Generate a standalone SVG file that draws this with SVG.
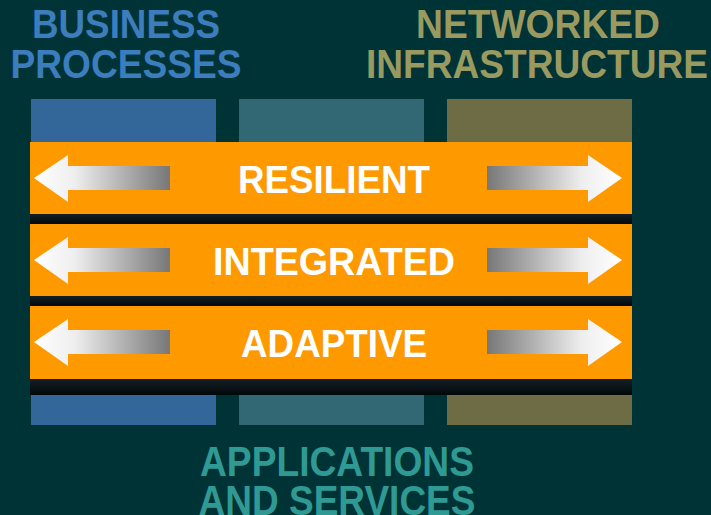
<svg xmlns="http://www.w3.org/2000/svg" width="711" height="515" viewBox="0 0 711 515">
<defs>
<linearGradient id="gl" x1="0" y1="0" x2="1" y2="0"><stop offset="0" stop-color="#ffffff"/><stop offset="0.3" stop-color="#eeeeee"/><stop offset="1" stop-color="#777777"/></linearGradient>
<linearGradient id="gr" x1="0" y1="0" x2="1" y2="0"><stop offset="0" stop-color="#777777"/><stop offset="0.7" stop-color="#eeeeee"/><stop offset="1" stop-color="#ffffff"/></linearGradient>
<linearGradient id="gd" x1="0" y1="0" x2="0" y2="1"><stop offset="0" stop-color="#131f26"/><stop offset="1" stop-color="#020809"/></linearGradient>
<g id="arrows">
<path d="M34,178 L68,155 L68,166 L170,166 L170,190 L68,190 L68,202 Z" fill="url(#gl)"/>
<path d="M622,178 L588,155 L588,166 L487,166 L487,190 L588,190 L588,202 Z" fill="url(#gr)"/>
</g>
</defs>
<style>
.lbl{font-family:"Liberation Sans",Arial,sans-serif;font-weight:bold;text-anchor:middle}
.band{fill:#ff9900}
.bt{fill:#ffffff;font-size:38px}
</style>
<rect width="711" height="515" fill="#003335"/>
<g id="business-processes">
<rect x="31" y="99" width="185" height="44" fill="#336699"/>
<rect x="31" y="395" width="185" height="30" fill="#336699"/>
<text class="lbl" x="126" y="38" font-size="40" fill="#3b7dbd" textLength="188" lengthAdjust="spacingAndGlyphs">BUSINESS</text>
<text class="lbl" x="126" y="78" font-size="40" fill="#3b7dbd" textLength="231" lengthAdjust="spacingAndGlyphs">PROCESSES</text>
</g>
<g id="applications-and-services">
<rect x="239" y="99" width="185" height="44" fill="#316873"/>
<rect x="239" y="395" width="185" height="30" fill="#316873"/>
<text class="lbl" x="337" y="476" font-size="42" fill="#2f9a94" textLength="274" lengthAdjust="spacingAndGlyphs">APPLICATIONS</text>
<text class="lbl" x="337" y="515" font-size="42" fill="#2f9a94" textLength="277" lengthAdjust="spacingAndGlyphs">AND SERVICES</text>
</g>
<g id="networked-infrastructure">
<rect x="447" y="99" width="185" height="44" fill="#6e6c45"/>
<rect x="447" y="395" width="185" height="30" fill="#6e6c45"/>
<text class="lbl" x="538" y="38" font-size="40" fill="#999960" textLength="244" lengthAdjust="spacingAndGlyphs">NETWORKED</text>
<text class="lbl" x="537" y="78" font-size="40" fill="#999960" textLength="342" lengthAdjust="spacingAndGlyphs">INFRASTRUCTURE</text>
</g>
<g id="resilient">
<rect class="band" x="30" y="142" width="602" height="72"/>
<rect x="30" y="214" width="602" height="10" fill="url(#gd)"/>
<use href="#arrows"/>
<text class="lbl bt" x="334" y="193" textLength="192" lengthAdjust="spacingAndGlyphs">RESILIENT</text>
</g>
<g id="integrated">
<rect class="band" x="30" y="224" width="602" height="72"/>
<rect x="30" y="296" width="602" height="10" fill="url(#gd)"/>
<use href="#arrows" transform="translate(0,82)"/>
<text class="lbl bt" x="334" y="275" textLength="242" lengthAdjust="spacingAndGlyphs">INTEGRATED</text>
</g>
<g id="adaptive">
<rect class="band" x="30" y="306" width="602" height="73"/>
<rect x="30" y="379" width="602" height="16" fill="url(#gd)"/>
<use href="#arrows" transform="translate(0,164)"/>
<text class="lbl bt" x="334" y="357" textLength="186" lengthAdjust="spacingAndGlyphs">ADAPTIVE</text>
</g>
<g id="connectors"/>
</svg>
